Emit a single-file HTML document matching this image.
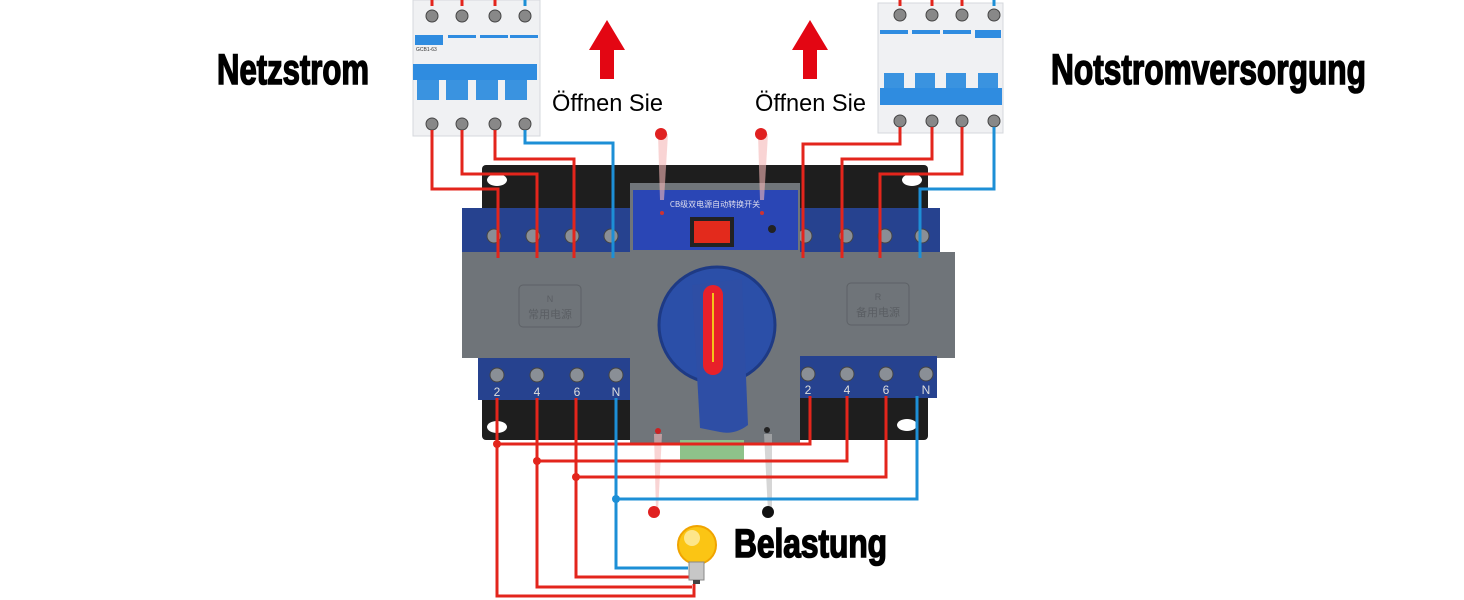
<!DOCTYPE html>
<html><head><meta charset="utf-8"><style>html,body{margin:0;padding:0;background:#fff}svg{display:block}</style></head>
<body>
<svg width="1464" height="600" viewBox="0 0 1464 600" xmlns="http://www.w3.org/2000/svg" font-family="Liberation Sans, sans-serif">
<rect width="1464" height="600" fill="#fff"/>
<!-- titles -->
<text x="217" y="84" font-size="43" font-weight="bold" stroke="#000" stroke-width="1.6" textLength="152" lengthAdjust="spacingAndGlyphs">Netzstrom</text>
<text x="1051" y="84" font-size="43" font-weight="bold" stroke="#000" stroke-width="1.6" textLength="315" lengthAdjust="spacingAndGlyphs">Notstromversorgung</text>
<text x="552" y="111" font-size="24" textLength="111" lengthAdjust="spacingAndGlyphs">Öffnen Sie</text>
<text x="755" y="111" font-size="24" textLength="111" lengthAdjust="spacingAndGlyphs">Öffnen Sie</text>
<text x="734" y="557" font-size="40" font-weight="bold" stroke="#000" stroke-width="1.6" textLength="153" lengthAdjust="spacingAndGlyphs">Belastung</text>
<!-- arrows -->
<polygon points="607,20 625,50 614,50 614,79 600,79 600,50 589,50" fill="#e30613"/>
<polygon points="810,20 828,50 817,50 817,79 803,79 803,50 792,50" fill="#e30613"/>

<!-- ATS body -->
<rect x="482" y="165" width="446" height="275" fill="#1e1e1e" rx="4"/>
<ellipse cx="497" cy="180" rx="10" ry="6" fill="#fff"/>
<ellipse cx="912" cy="180" rx="10" ry="6" fill="#fff"/>
<ellipse cx="497" cy="427" rx="10" ry="6" fill="#fff"/>
<ellipse cx="907" cy="425" rx="10" ry="6" fill="#fff"/>
<!-- top blue strips -->
<rect x="462" y="208" width="170" height="46" fill="#26428f"/>
<rect x="796" y="208" width="144" height="46" fill="#26428f"/>
<g fill="#8a8f96" stroke="#444" stroke-width="1">
<circle cx="494" cy="236" r="7"/><circle cx="533" cy="236" r="7"/><circle cx="572" cy="236" r="7"/><circle cx="611" cy="236" r="7"/>
<circle cx="805" cy="236" r="7"/><circle cx="846" cy="236" r="7"/><circle cx="885" cy="236" r="7"/><circle cx="922" cy="236" r="7"/>
</g>
<!-- gray covers -->
<rect x="462" y="252" width="170" height="106" fill="#6f7479"/>
<rect x="796" y="252" width="159" height="106" fill="#6f7479"/>
<rect x="519" y="285" width="62" height="42" rx="4" fill="none" stroke="#5d6166"/>
<rect x="847" y="283" width="62" height="42" rx="4" fill="none" stroke="#5d6166"/>
<text x="550" y="302" font-size="9" fill="#5a5e63" text-anchor="middle">N</text>
<text x="550" y="318" font-size="11" fill="#5a5e63" text-anchor="middle" font-family="Noto Sans CJK SC, sans-serif">常用电源</text>
<text x="878" y="300" font-size="9" fill="#5a5e63" text-anchor="middle">R</text>
<text x="878" y="316" font-size="11" fill="#5a5e63" text-anchor="middle" font-family="Noto Sans CJK SC, sans-serif">备用电源</text>
<!-- bottom blue strips -->
<rect x="478" y="358" width="154" height="42" fill="#26428f"/>
<rect x="796" y="356" width="141" height="42" fill="#26428f"/>
<g fill="#8a8f96" stroke="#444" stroke-width="1">
<circle cx="497" cy="375" r="7"/><circle cx="537" cy="375" r="7"/><circle cx="577" cy="375" r="7"/><circle cx="616" cy="375" r="7"/>
<circle cx="808" cy="374" r="7"/><circle cx="847" cy="374" r="7"/><circle cx="886" cy="374" r="7"/><circle cx="926" cy="374" r="7"/>
</g>
<g font-size="12" fill="#ddd" text-anchor="middle">
<text x="497" y="396">2</text><text x="537" y="396">4</text><text x="577" y="396">6</text><text x="616" y="396">N</text>
<text x="808" y="394">2</text><text x="847" y="394">4</text><text x="886" y="394">6</text><text x="926" y="394">N</text>
</g>
<!-- center module -->
<rect x="630" y="183" width="170" height="260" fill="#70757a"/>
<rect x="633" y="190" width="165" height="60" fill="#2a46b5"/>
<text x="715" y="207" font-size="8" fill="#dde" text-anchor="middle" font-family="Noto Sans CJK SC, sans-serif">CB级双电源自动转换开关</text>
<rect x="690" y="217" width="44" height="30" fill="#222"/>
<rect x="694" y="221" width="36" height="22" fill="#e32a1c"/>
<circle cx="662" cy="213" r="2" fill="#c33"/><circle cx="762" cy="213" r="2" fill="#c33"/>
<circle cx="772" cy="229" r="4" fill="#222"/>
<circle cx="717" cy="325" r="58" fill="#2b4fa8" stroke="#1e3a84" stroke-width="3"/>
<path d="M692,285 L742,279 L748,425 Q735,435 720,432 L700,428 Z" fill="#2e4ea5"/>
<rect x="703" y="285" width="20" height="90" rx="10" fill="#e8202a"/>
<line x1="713" y1="293" x2="713" y2="362" stroke="#f4c21a" stroke-width="2"/>
<rect x="680" y="440" width="64" height="20" fill="#8ec28a"/>
<circle cx="658" cy="431" r="3" fill="#c22"/><circle cx="767" cy="430" r="3" fill="#222"/>
<!-- pointer cones -->
<polygon points="658,134 668,134 664,200 660,200" fill="#f5b8b8" opacity="0.6"/>
<polygon points="758,134 768,134 764,200 760,200" fill="#f5b8b8" opacity="0.6"/>
<polygon points="654,434 662,434 658,512 656,512" fill="#f5b8b8" opacity="0.6"/>
<polygon points="764,434 772,434 772,512 768,512" fill="#bbb" opacity="0.6"/>
<circle cx="661" cy="134" r="6" fill="#e02020"/>
<circle cx="761" cy="134" r="6" fill="#e02020"/>
<circle cx="654" cy="512" r="6" fill="#e02020"/>
<circle cx="768" cy="512" r="6" fill="#111"/>

<!-- breakers -->
<g>
<rect x="413" y="0" width="127" height="136" fill="#f0f1f3" stroke="#d6d8dc"/>
<rect x="413" y="64" width="124" height="16" fill="#2f8ce0"/>
<rect x="417" y="80" width="22" height="20" fill="#3a93e0"/><rect x="446" y="80" width="22" height="20" fill="#3a93e0"/><rect x="476" y="80" width="22" height="20" fill="#3a93e0"/><rect x="505" y="80" width="22" height="20" fill="#3a93e0"/>
<rect x="415" y="35" width="28" height="10" fill="#2f8ce0"/><rect x="448" y="35" width="28" height="3" fill="#2f8ce0"/><rect x="480" y="35" width="28" height="3" fill="#2f8ce0"/><rect x="510" y="35" width="28" height="3" fill="#2f8ce0"/>
<text x="416" y="51" font-size="5" fill="#333">GCB1-63</text>
<g fill="#888" stroke="#444"><circle cx="432" cy="16" r="6"/><circle cx="462" cy="16" r="6"/><circle cx="495" cy="16" r="6"/><circle cx="525" cy="16" r="6"/>
<circle cx="432" cy="124" r="6"/><circle cx="462" cy="124" r="6"/><circle cx="495" cy="124" r="6"/><circle cx="525" cy="124" r="6"/></g>
</g>
<g>
<rect x="878" y="3" width="125" height="130" fill="#f0f1f3" stroke="#d6d8dc"/>
<rect x="880" y="30" width="28" height="4" fill="#2f8ce0"/><rect x="912" y="30" width="28" height="4" fill="#2f8ce0"/><rect x="943" y="30" width="28" height="4" fill="#2f8ce0"/><rect x="975" y="30" width="26" height="8" fill="#2f8ce0"/>
<rect x="884" y="73" width="20" height="18" fill="#3a93e0"/><rect x="915" y="73" width="20" height="18" fill="#3a93e0"/><rect x="946" y="73" width="20" height="18" fill="#3a93e0"/><rect x="978" y="73" width="20" height="18" fill="#3a93e0"/>
<rect x="880" y="88" width="122" height="17" fill="#2f8ce0"/>
<g fill="#888" stroke="#444"><circle cx="900" cy="15" r="6"/><circle cx="932" cy="15" r="6"/><circle cx="962" cy="15" r="6"/><circle cx="994" cy="15" r="6"/>
<circle cx="900" cy="121" r="6"/><circle cx="932" cy="121" r="6"/><circle cx="962" cy="121" r="6"/><circle cx="994" cy="121" r="6"/></g>
</g>

<!-- wires -->
<g fill="none" stroke-width="3">
<g stroke="#e3251c">
<line x1="432" y1="0" x2="432" y2="6"/><line x1="462" y1="0" x2="462" y2="6"/><line x1="495" y1="0" x2="495" y2="6"/>
<line x1="900" y1="0" x2="900" y2="6"/><line x1="932" y1="0" x2="932" y2="6"/><line x1="962" y1="0" x2="962" y2="6"/>
<polyline points="432,130 432,189 498,189 498,258"/>
<polyline points="462,130 462,174 537,174 537,258"/>
<polyline points="495,130 495,159 574,159 574,258"/>
<polyline points="900,127 900,144 803,144 803,258"/>
<polyline points="932,127 932,159 842,159 842,258"/>
<polyline points="962,127 962,174 880,174 880,258"/>
<polyline points="497,398 497,596 694,596 694,584"/>
<polyline points="537,398 537,587 692,587"/>
<polyline points="576,398 576,577 690,577"/>
<polyline points="497,444 810,444 810,396"/>
<polyline points="537,461 847,461 847,396"/>
<polyline points="576,477 886,477 886,396"/>
</g>
<g stroke="#1d8fd6">
<line x1="525" y1="0" x2="525" y2="6"/><line x1="994" y1="0" x2="994" y2="6"/>
<polyline points="525,130 525,143 613,143 613,258"/>
<polyline points="994,127 994,189 920,189 920,258"/>
<polyline points="616,398 616,568 688,568"/>
<polyline points="616,499 917,499 917,396"/>
</g>
</g>
<circle cx="497" cy="444" r="4" fill="#e3251c"/><circle cx="537" cy="461" r="4" fill="#e3251c"/><circle cx="576" cy="477" r="4" fill="#e3251c"/><circle cx="616" cy="499" r="4" fill="#1d8fd6"/>
<!-- bulb -->
<circle cx="697" cy="545" r="19" fill="#fbc514" stroke="#f0a400" stroke-width="2"/>
<circle cx="692" cy="538" r="8" fill="#fde68a"/>
<rect x="689" y="562" width="15" height="18" fill="#c7c7c7" stroke="#888"/>
<rect x="693" y="580" width="7" height="4" fill="#444"/>
</svg>
</body></html>
